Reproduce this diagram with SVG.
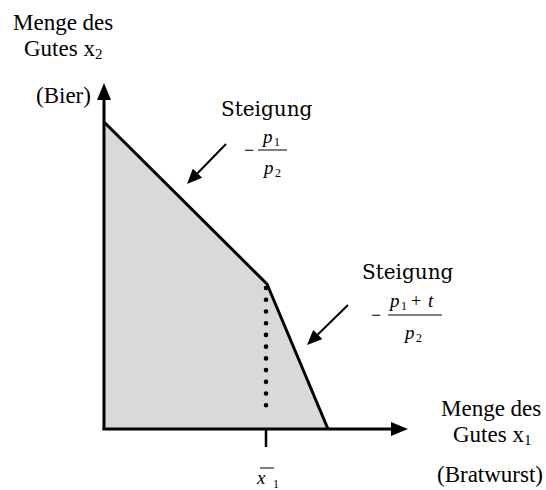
<svg xmlns="http://www.w3.org/2000/svg" width="546" height="490" viewBox="0 0 546 490">
<style>
.lbl{font-family:"Liberation Serif","Times New Roman",serif;font-size:23px;fill:#000}
.sub{font-size:15px}
.st{font-family:"DejaVu Serif","Liberation Serif",serif;font-size:20px;fill:#000}
.m{font-family:"Liberation Serif","Times New Roman",serif;font-style:italic;font-size:19px;fill:#000}
.mn{font-family:"Liberation Serif","Times New Roman",serif;font-size:12px;fill:#000}
.op{font-family:"Liberation Serif","Times New Roman",serif;font-size:18px;fill:#000}
.ax{stroke:#000;stroke-width:3;fill:none}
.ptr{stroke:#000;stroke-width:2;fill:none}
.bar{stroke:#000;stroke-width:1}
</style>
<defs>
<marker id="axhead" viewBox="0 0 17 14" refX="0" refY="7" markerWidth="17" markerHeight="14" orient="auto" markerUnits="userSpaceOnUse"><path d="M0,0 L17,7 L0,14 z" fill="#000"/></marker>
<marker id="ptrhead" viewBox="0 0 15 13" refX="0" refY="6.5" markerWidth="15" markerHeight="13" orient="auto" markerUnits="userSpaceOnUse"><path d="M0,0 L15,6.5 L0,13 z" fill="#000"/></marker>
</defs>
<g id="region">
<polygon points="104,122 267,284 328,429 104,429" fill="#d9d9d9"/>
</g>
<g id="budget-line">
<polyline class="ax" points="104,122 267,284 328,429"/>
<line x1="266" y1="288" x2="266" y2="417" stroke="#000" stroke-width="4.6" stroke-linecap="round" stroke-dasharray="0 11.73"/>
</g>
<g id="axes">
<line class="ax" x1="104" y1="430" x2="104" y2="100" marker-end="url(#axhead)"/>
<line class="ax" x1="102.5" y1="429" x2="391" y2="429" marker-end="url(#axhead)"/>
<line x1="266" y1="429" x2="266" y2="447" stroke="#000" stroke-width="2.5"/>
</g>
<g id="connectors">
<line class="ptr" x1="226" y1="144" x2="197.5" y2="173.2" marker-end="url(#ptrhead)"/>
<line class="ptr" x1="348" y1="305" x2="317.8" y2="334.5" marker-end="url(#ptrhead)"/>
</g>
<g id="y-label">
<text class="lbl" x="13" y="30">Menge des</text>
<text class="lbl" x="24" y="56">Gutes x<tspan class="sub" dy="3">2</tspan></text>
<text class="lbl" x="36" y="103">(Bier)</text>
</g>
<g id="x-label">
<text class="lbl" x="441" y="416">Menge des</text>
<text class="lbl" x="453" y="442">Gutes x<tspan class="sub" dy="3">1</tspan></text>
<text class="lbl" x="437" y="482">(Bratwurst)</text>
</g>
<g id="xbar-label">
<line class="bar" x1="260" y1="468" x2="274" y2="468" stroke-width="1.4"/>
<text class="m" x="257" y="484" font-size="25">x</text>
<text class="mn" x="273" y="488" font-size="14">1</text>
</g>
<g id="slope1">
<text class="st" x="221" y="116">Steigung</text>
<text class="op" x="244" y="156">−</text>
<line class="bar" x1="258" y1="150" x2="287" y2="150"/>
<text class="m" x="263" y="143">p</text>
<text class="mn" x="274" y="146">1</text>
<text class="m" x="264" y="174">p</text>
<text class="mn" x="275" y="177">2</text>
</g>
<g id="slope2">
<text class="st" x="362" y="279">Steigung</text>
<text class="op" x="371" y="321">−</text>
<line class="bar" x1="388" y1="315" x2="442" y2="315"/>
<text class="m" x="390" y="307">p</text>
<text class="mn" x="401" y="310">1</text>
<text class="op" x="411" y="307">+</text>
<text class="m" x="428" y="307">t</text>
<text class="m" x="405" y="339">p</text>
<text class="mn" x="416" y="342">2</text>
</g>
</svg>
